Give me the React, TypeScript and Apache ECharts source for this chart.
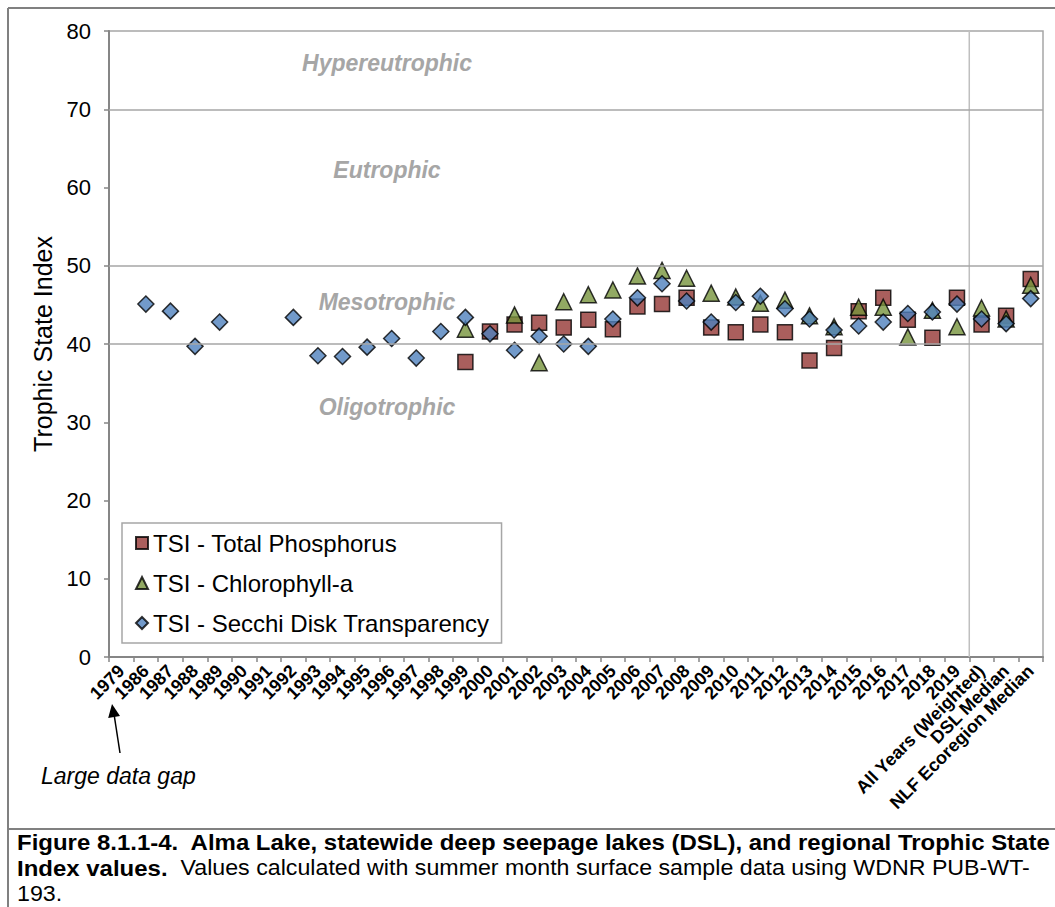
import { useEffect, useRef } from 'react';
import * as echarts from 'echarts';

const FONT = "Arial, 'Liberation Sans', sans-serif";

const categories = [
  '1979', '1986', '1987', '1988', '1989', '1990', '1991', '1992', '1993', '1994',
  '1995', '1996', '1997', '1998', '1999', '2000', '2001', '2002', '2003', '2004',
  '2005', '2006', '2007', '2008', '2009', '2010', '2011', '2012', '2013', '2014',
  '2015', '2016', '2017', '2018', '2019',
  'All Years (Weighted)', 'DSL Median', 'NLF Ecoregion Median',
];

// TSI - Total Phosphorus
const totalPhosphorus = [
  null, null, null, null, null, null, null, null, null, null,
  null, null, null, null, 37.7, 41.6, 42.5, 42.7, 42.1, 43.1,
  41.9, 44.8, 45.1, 45.9, 42.1, 41.5, 42.5, 41.5, 37.9, 39.5,
  44.2, 45.9, 43.1, 40.8, 45.9,
  42.5, 43.6, 48.3,
];

// TSI - Chlorophyll-a
const chlorophyll = [
  null, null, null, null, null, null, null, null, null, null,
  null, null, null, null, 41.9, null, 43.7, 37.6, 45.4, 46.3,
  46.9, 48.7, 49.4, 48.4, 46.5, 46.0, 45.2, 45.6, 43.6, 42.2,
  44.7, 44.7, 40.9, 44.3, 42.2,
  44.6, 43.2, 47.5,
];

// TSI - Secchi Disk Transparency
const secchi = [
  null, 45.1, 44.2, 39.7, 42.8, null, null, 43.4, 38.5, 38.4,
  39.6, 40.7, 38.2, 41.6, 43.4, 41.3, 39.2, 41.0, 40.0, 39.7,
  43.2, 45.9, 47.7, 45.5, 42.8, 45.3, 46.1, 44.5, 43.2, 41.8,
  42.3, 42.8, 43.9, 44.1, 45.1,
  43.2, 42.6, 45.8,
];

const trophicBoundaries = [40, 50, 70];
const zoneNames = ['Hypereutrophic', 'Eutrophic', 'Mesotrophic', 'Oligotrophic'];
const zoneLabelTsi = [75.9, 62.2, 45.4, 31.9];

// summary categories start here; a divider is drawn on their left edge
const summaryStart = categories.indexOf('All Years (Weighted)');

const captionBold1 =
  'Figure 8.1.1-4.  Alma Lake, statewide deep seepage lakes (DSL), and regional Trophic State';
const captionBold2 = 'Index values.';
const captionRest2 = '  Values calculated with summer month surface sample data using WDNR PUB-WT-';
const captionRest3 = '193.';

const markerStyle = (color: string) => ({ color, borderColor: '#000', borderWidth: 1.5 });

export default function App() {
  const ref = useRef<HTMLDivElement>(null);

  useEffect(() => {
    if (!ref.current) return;
    const chart = echarts.init(ref.current, undefined, { renderer: 'svg' });

    chart.setOption({
      animation: false,
      textStyle: { fontFamily: FONT },
      grid: {
        left: 109,
        top: 31,
        right: 12,
        bottom: 250,
        show: true,
        borderColor: '#A6A6A6',
        borderWidth: 1.5,
      },
      legend: {
        orient: 'vertical',
        left: 122,
        top: 523,
        padding: [8, 12, 8, 13],
        itemWidth: 12,
        itemHeight: 12,
        itemGap: 16,
        borderColor: '#A6A6A6',
        borderWidth: 1.5,
        backgroundColor: '#fff',
        textStyle: { fontSize: 24, lineHeight: 24, color: '#000', fontFamily: FONT },
        data: ['TSI - Total Phosphorus', 'TSI - Chlorophyll-a', 'TSI - Secchi Disk Transparency'],
      },
      xAxis: [
        {
          type: 'category',
          data: categories,
          boundaryGap: true,
          axisLine: { lineStyle: { color: '#868686', width: 2 } },
          axisTick: { show: true, length: 5, lineStyle: { color: '#868686', width: 1.5 } },
          axisLabel: {
            interval: 0,
            rotate: 45,
            margin: 11,
            fontSize: 18,
            fontWeight: 'bold',
            color: '#000',
            fontFamily: FONT,
          },
          splitLine: { show: false },
        },
        {
          // hidden helper axis spanning category edges, used for the divider line
          type: 'value',
          min: 0,
          max: categories.length,
          show: false,
        },
      ],
      yAxis: {
        type: 'value',
        min: 0,
        max: 80,
        interval: 10,
        name: 'Trophic State Index',
        nameLocation: 'middle',
        nameGap: 49,
        nameTextStyle: { fontSize: 25, color: '#000', fontFamily: FONT },
        axisLine: { show: true, lineStyle: { color: '#868686', width: 2 } },
        axisTick: { show: true, length: 5, lineStyle: { color: '#868686', width: 1.5 } },
        axisLabel: { fontSize: 22, margin: 18, color: '#000', fontFamily: FONT },
        splitLine: { show: false },
      },
      series: [
        {
          name: 'divider',
          type: 'line',
          xAxisIndex: 1,
          data: [
            [summaryStart, 0],
            [summaryStart, 80],
          ],
          symbol: 'none',
          silent: true,
          lineStyle: { color: '#BFBFBF', width: 1.5 },
          z: 1,
        },
        {
          name: 'TSI - Total Phosphorus',
          type: 'scatter',
          symbol: 'rect',
          symbolSize: 15,
          itemStyle: markerStyle('#953735'),
          data: totalPhosphorus,
          z: 2,
          markLine: {
            silent: true,
            symbol: 'none',
            label: { show: false },
            lineStyle: { color: '#A6A6A6', type: 'solid', width: 1.5 },
            data: trophicBoundaries.map((v) => ({ yAxis: v })),
          },
        },
        {
          name: 'TSI - Chlorophyll-a',
          type: 'scatter',
          symbol: 'triangle',
          symbolSize: 16,
          itemStyle: markerStyle('#77933C'),
          data: chlorophyll,
          z: 3,
        },
        {
          name: 'TSI - Secchi Disk Transparency',
          type: 'scatter',
          symbol: 'diamond',
          symbolSize: 16,
          itemStyle: markerStyle('#4F81BD'),
          data: secchi,
          z: 4,
        },
      ],
    });

    const zoneLabels = zoneNames.map((name, i) => ({
      type: 'text',
      x: 387,
      y: chart.convertToPixel({ yAxisIndex: 0 }, zoneLabelTsi[i]) as number,
      style: {
        text: name,
        align: 'center',
        verticalAlign: 'middle',
        fontSize: 23,
        fontStyle: 'italic',
        fontWeight: 'bold',
        fontFamily: FONT,
        fill: '#A6A6A6',
      },
    }));

    chart.setOption({
      graphic: [
        // outer frame and caption separator
        { type: 'line', shape: { x1: 8, y1: 8, x2: 1055, y2: 8 }, style: { stroke: '#808080', lineWidth: 2 } },
        { type: 'line', shape: { x1: 8, y1: 8, x2: 8, y2: 907 }, style: { stroke: '#808080', lineWidth: 2 } },
        { type: 'line', shape: { x1: 8, y1: 829, x2: 1055, y2: 829 }, style: { stroke: '#808080', lineWidth: 2 } },
        ...zoneLabels,
        // "Large data gap" note with arrow
        { type: 'line', shape: { x1: 120, y1: 753, x2: 114, y2: 714 }, style: { stroke: '#000', lineWidth: 1.5 } },
        {
          type: 'polygon',
          shape: { points: [[112, 704], [120, 716], [108.2, 718]] },
          style: { fill: '#000' },
        },
        {
          type: 'text',
          x: 41,
          y: 776,
          style: {
            text: 'Large data gap',
            verticalAlign: 'middle',
            fontSize: 23,
            fontStyle: 'italic',
            fontFamily: FONT,
            fill: '#000',
          },
        },
        // caption
        {
          type: 'text',
          x: 17,
          y: 830,
          scaleX: 1.09,
          style: {
            text: `{b|${captionBold1}}\n{b|${captionBold2}}{n|${captionRest2}}\n{n|${captionRest3}}`,
            fontFamily: FONT,
            fontSize: 22,
            lineHeight: 25.5,
            fill: '#000',
            rich: {
              b: { fontWeight: 'bold', fontSize: 22, lineHeight: 25.5, fontFamily: FONT, fill: '#000' },
              n: { fontSize: 21.3, lineHeight: 25.5, fontFamily: FONT, fill: '#000' },
            },
          },
        },
      ],
    });

    return () => chart.dispose();
  }, []);

  return (
    <div
      ref={ref}
      style={{ position: 'fixed', left: 0, top: 0, width: 1055, height: 907, background: '#fff' }}
    />
  );
}
